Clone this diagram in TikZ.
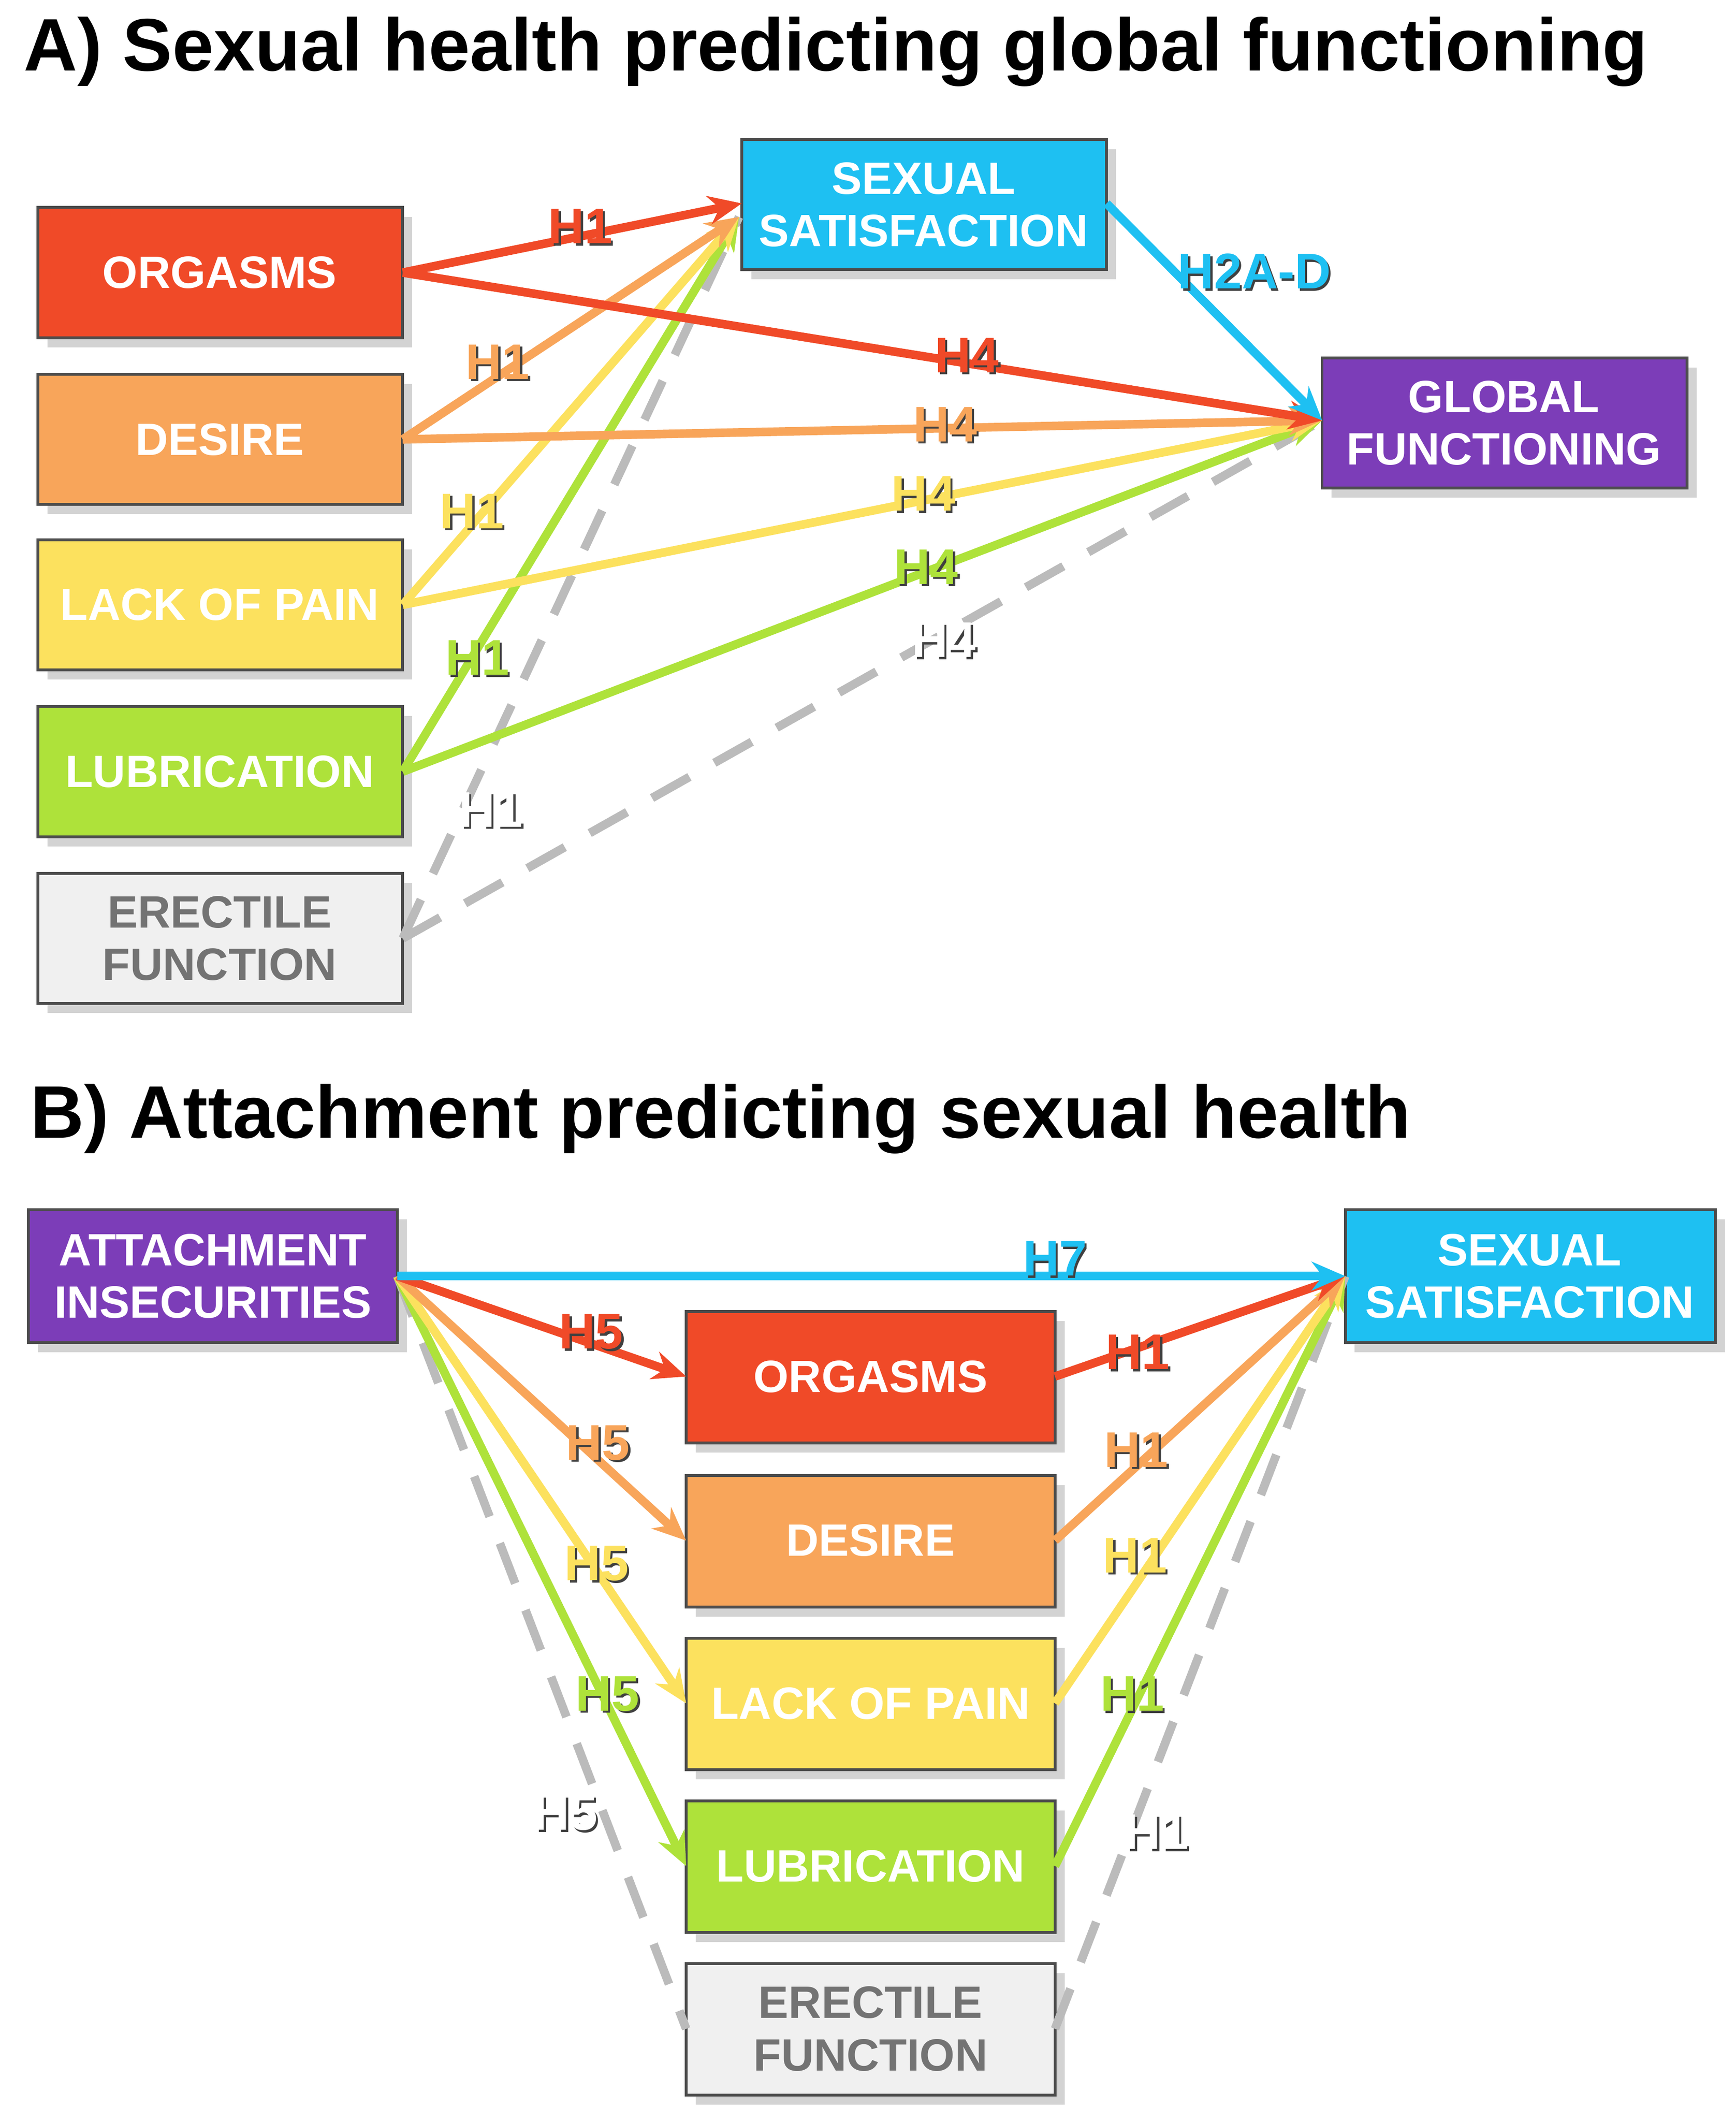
\documentclass[tikz,border=0pt]{standalone}
\usepackage{fontspec}
\setmainfont{Liberation Sans}
\usetikzlibrary{shadows,arrows.meta}
\definecolor{cOrg}{HTML}{F04A28}
\definecolor{cDes}{HTML}{F8A55A}
\definecolor{cLac}{HTML}{FCE15E}
\definecolor{cLub}{HTML}{AEE23A}
\definecolor{cEre}{HTML}{F0F0F0}
\definecolor{cSat}{HTML}{1EC0F2}
\definecolor{cGlo}{HTML}{7C3DB8}
\definecolor{cDash}{HTML}{BBBBBB}
\newcommand\mylab[5]{\node[lb=black!75] at ($(#3,#4)+(1.6,1.6)$) {#5};\node[lb=#2] (#1) at (#3,#4) {#5};}
\usetikzlibrary{calc}
\begin{document}
\begin{tikzpicture}[x=0.01cm,y=-0.01cm,
 box/.style={draw=black!70,line width=0.6pt,fill=#1,drop shadow={opacity=0.35,shadow xshift=2pt,shadow yshift=-2pt},
   text=white,font=\fontsize{9.5}{11}\selectfont\bfseries,align=center,inner sep=0pt},
 etxt/.style={text=white,font=\fontsize{9.5}{11}\selectfont\bfseries,align=center},
 ar/.style={line width=1.8pt,draw=#1,-{Stealth[length=7pt,width=6pt]}},
 da/.style={line width=1.8pt,draw=cDash,dash pattern=on 9pt off 6pt},
 lb/.style={font=\fontsize{10.5}{12}\selectfont\bfseries,text=#1},
 ttl/.style={font=\fontsize{15.6}{18}\selectfont\bfseries,anchor=west}]
\useasboundingbox (0,0) rectangle (1280,1564);
\node[ttl] (tA) at (5,38) {A) Sexual health predicting global functioning};
\node[ttl] (tB) at (10,825) {B) Attachment predicting sexual health};
\path[box=cOrg] (28,153) rectangle (297,249); \node[etxt] (aO) at (162,201) {ORGASMS};
\path[box=cDes] (28,276) rectangle (297,372); \node[etxt] (aD) at (162,324) {DESIRE};
\path[box=cLac] (28,398) rectangle (297,494); \node[etxt] (aL) at (162,446) {LACK OF PAIN};
\path[box=cLub] (28,521) rectangle (297,617); \node[etxt] (aU) at (162,569) {LUBRICATION};
\path[box=cEre] (28,644) rectangle (297,740); \node[etxt,text=black!55] (aE) at (162,692) {ERECTILE\\FUNCTION};
\path[box=cSat] (547,103) rectangle (816,199); \node[etxt] (aS) at (681,151) {SEXUAL\\SATISFACTION};
\path[box=cGlo] (975,264) rectangle (1244,360); \node[etxt] (aG) at (1109,312) {GLOBAL\\FUNCTIONING};
\coordinate (aOe) at (297,201); \coordinate (aDe) at (297,324); \coordinate (aLe) at (297,446);
\coordinate (aUe) at (297,569); \coordinate (aEe) at (297,692);
\coordinate (aSw) at (547,150); \coordinate (aSw2) at (545,160);
\coordinate (aSe) at (816,150); \coordinate (aGw) at (975,310);
\draw[da] (aEe) -- (aSw2); \draw[da] (aEe) -- (aGw);
\draw[ar=cLub] (aUe) -- (aSw2); \draw[ar=cLub] (aUe) -- (aGw);
\draw[ar=cLac] (aLe) -- (aSw2); \draw[ar=cLac] (aLe) -- (aGw);
\draw[ar=cDes] (aDe) -- (aSw2); \draw[ar=cDes] (aDe) -- (aGw);
\draw[ar=cOrg] (aOe) -- (aSw); \draw[ar=cOrg] (aOe) -- (aGw);
\draw[ar=cSat] (aSe) -- (aGw);
\mylab{l1}{cOrg}{428}{167}{H1}
\mylab{l2}{cDes}{367}{267}{H1}
\mylab{l3}{cLac}{348}{377}{H1}
\mylab{l4}{cLub}{352}{485}{H1}
\mylab{l5}{white}{362}{597}{H1}
\mylab{l6}{cSat}{925}{200}{H2A-D}
\mylab{l7}{cOrg}{713}{262}{H4}
\mylab{l8}{cDes}{697}{313}{H4}
\mylab{l9}{cLac}{681}{364}{H4}
\mylab{l10}{cLub}{683}{418}{H4}
\mylab{l11}{white}{696}{472}{H4}
\path[box=cGlo] (21,892) rectangle (293,990); \node[etxt] (bA) at (157,941) {ATTACHMENT\\INSECURITIES};
\path[box=cSat] (992,892) rectangle (1265,990); \node[etxt] (bS) at (1128,941) {SEXUAL\\SATISFACTION};
\path[box=cOrg] (506,967) rectangle (778,1064); \node[etxt] (bO) at (642,1015) {ORGASMS};
\path[box=cDes] (506,1088) rectangle (778,1185); \node[etxt] (bD) at (642,1136) {DESIRE};
\path[box=cLac] (506,1208) rectangle (778,1305); \node[etxt] (bL) at (642,1256) {LACK OF PAIN};
\path[box=cLub] (506,1328) rectangle (778,1425); \node[etxt] (bU) at (642,1376) {LUBRICATION};
\path[box=cEre] (506,1448) rectangle (778,1545); \node[etxt,text=black!55] (bE) at (642,1496) {ERECTILE\\FUNCTION};
\coordinate (bAe) at (293,941); \coordinate (bSw) at (992,941);
\coordinate (bOw) at (506,1015); \coordinate (bDw) at (506,1136); \coordinate (bLw) at (506,1256);
\coordinate (bUw) at (506,1376); \coordinate (bEw) at (506,1496);
\coordinate (bOe) at (778,1015); \coordinate (bDe) at (778,1136); \coordinate (bLe) at (778,1256);
\coordinate (bUe) at (778,1376); \coordinate (bEe) at (778,1496);
\draw[da] (bAe) -- (bEw); \draw[da] (bEe) -- (bSw);
\draw[ar=cLub] (bAe) -- (bUw); \draw[ar=cLub] (bUe) -- (bSw);
\draw[ar=cLac] (bAe) -- (bLw); \draw[ar=cLac] (bLe) -- (bSw);
\draw[ar=cDes] (bAe) -- (bDw); \draw[ar=cDes] (bDe) -- (bSw);
\draw[ar=cOrg] (bAe) -- (bOw); \draw[ar=cOrg] (bOe) -- (bSw);
\draw[ar=cSat] (bAe) -- (bSw);
\mylab{m0}{cSat}{778}{928}{H7}
\mylab{m1}{cOrg}{436}{982}{H5}
\mylab{m2}{cDes}{441}{1064}{H5}
\mylab{m3}{cLac}{440}{1153}{H5}
\mylab{m4}{cLub}{448}{1249}{H5}
\mylab{m5}{white}{417}{1337}{H5}
\mylab{n1}{cOrg}{839}{997}{H1}
\mylab{n2}{cDes}{838}{1069}{H1}
\mylab{n3}{cLac}{837}{1147}{H1}
\mylab{n4}{cLub}{835}{1249}{H1}
\mylab{n5}{white}{853}{1351}{H1}
\end{tikzpicture}
\end{document}
